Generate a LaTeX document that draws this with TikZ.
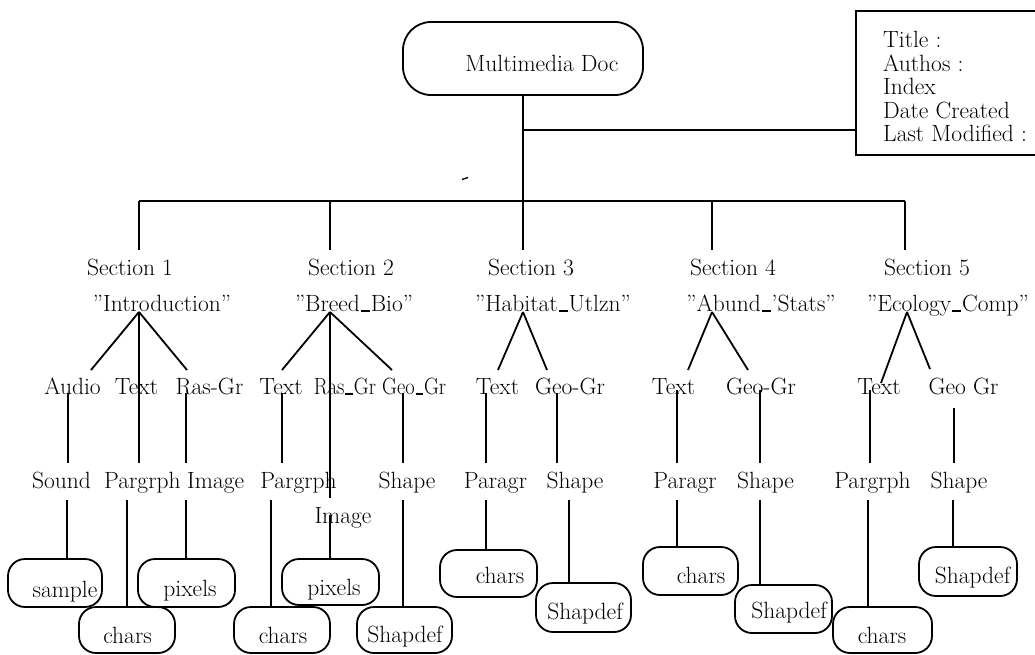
\documentclass[tikz,border=0pt]{standalone}
\usepackage{fontspec}
\usepackage{graphicx}
% short low dash used inside the section names
\newcommand{\usc}{\kern0.04em\rule[-0.03em]{0.38em}{0.055em}\kern0.04em}
% slightly condensed label for tight spots
\newcommand{\tight}[1]{\scalebox{0.87}[1]{#1}}
\begin{document}
\begin{tikzpicture}[x=1pt,y=-1pt,
  lbl/.style={font=\fontsize{23.5}{28}\selectfont, inner sep=0pt, anchor=base},
  rbox/.style={draw, line width=1.8pt, rounded corners=17pt, inner sep=0pt},
  conn/.style={line width=1.8pt}]
\useasboundingbox (0,0) rectangle (1035,655);
\clip (0,0) rectangle (1035,655);

% ---------- top: document node and its attribute box ----------
\node[rbox, rounded corners=28pt, minimum width=240pt, minimum height=73pt] (root) at (523,58.5) {};
\node[lbl] (rootlbl) at (542,72) {Multimedia Doc};

\node[draw, line width=1.8pt, anchor=north west, minimum width=200pt, minimum height=144pt, inner sep=0pt] (info) at (855,10) {};
\node[lbl, anchor=base west] (iTitle) at (883,48)    {Title :};
\node[lbl, anchor=base west] (iAuth)  at (883,71.5)  {Authos :};
\node[lbl, anchor=base west] (iIndex) at (883,95)    {Index};
\node[lbl, anchor=base west] (iDate)  at (883,118.5) {Date Created};
\node[lbl, anchor=base west] (iMod)   at (883,142)   {Last Modified :};

\coordinate (jn) at (523,130);
\draw[conn] (jn) -- (jn -| info.west);

% stray pen mark
\draw[line width=1.4pt] (462,179.5) -- (468,177.5);

% ---------- bus to the five sections ----------
\coordinate (busL) at (139,201);
\coordinate (busR) at (905,201);
\coordinate (d1) at (139,250);
\coordinate (d2) at (330,250);
\coordinate (d3) at (523,250);
\coordinate (d4) at (712,250);
\coordinate (d5) at (905,250);
\draw[conn] (busL) -- (busR);
\draw[conn] (root.south) -- (d3);
\foreach \d in {d1,d2,d4,d5} \draw[conn] (\d |- busL) -- (\d);

% ---------- section titles ----------
\node[lbl] (sec1) at (130,275) {Section 1};
\node[lbl] (sec2) at (351,275) {Section 2};
\node[lbl] (sec3) at (531,275) {Section 3};
\node[lbl] (sec4) at (733,275) {Section 4};
\node[lbl] (sec5) at (927,275) {Section 5};

\node[lbl] (nam1) at (162,311) {”Introduction”};
\node[lbl] (nam2) at (354,311) {”Breed\usc Bio”};
\node[lbl] (nam3) at (553,311) {”Habitat\usc Utlzn”};
\node[lbl] (nam4) at (761,311) {”Abund\usc’Stats”};
\node[lbl] (nam5) at (948,311) {”Ecology\usc Comp”};

% ---------- media types ----------
\node[lbl] (t1a) at (72.5,394)  {Audio};
\node[lbl] (t1b) at (136.5,394) {Text};
\node[lbl] (t1c) at (209.5,394) {Ras-Gr};
\node[lbl] (t2a) at (281,394)   {Text};
\node[lbl] (t2b) at (345,394)   {\tight{Ras\usc Gr}};
\node[lbl, anchor=base west] (t2c) at (382,394) {\tight{Geo\usc Gr}};
\node[lbl] (t3a) at (497.5,394) {Text};
\node[lbl] (t3b) at (570,394)   {Geo-Gr};
\node[lbl] (t4a) at (673.5,394) {Text};
\node[lbl] (t4b) at (761,394)   {Geo-Gr};
\node[lbl] (t5a) at (879,394)   {Text};
\node[lbl] (t5b) at (963.5,394) {Geo Gr};

% fan origins under the section names
\coordinate (f1) at (139,312);
\coordinate (f2) at (330,312);
\coordinate (f3) at (523,312);
\coordinate (f4) at (712,312);
\coordinate (f5) at (907,312);

\draw[conn] (f1) -- (91,370);
\draw[conn] (f1) -- (187,370);
\draw[conn] (f2) -- (282,370);
\draw[conn] (f2) -- (392,370);
\draw[conn] (f3) -- (498,370);
\draw[conn] (f3) -- (547,370);
\draw[conn] (f4) -- (688,370);
\draw[conn] (f4) -- (748,370);
\draw[conn] (f5) -- (881,383);
\draw[conn] (f5) -- (930,369);

% ---------- components ----------
\node[lbl] (c1a) at (61.5,488) {Sound};
\node[lbl, anchor=base west] (c1b) at (104,488) {Pargrph};
\node[lbl, anchor=base west] (c1c) at (187,488) {Image};
\node[lbl] (c2a) at (298.5,488) {Pargrph};
\node[lbl] (c2b) at (343,523)   {Image};
\node[lbl] (c2c) at (407,488)   {Shape};
\node[lbl] (c3a) at (495.5,488) {Paragr};
\node[lbl] (c3b) at (575,488)   {Shape};
\node[lbl] (c4a) at (685,488)   {Paragr};
\node[lbl] (c4b) at (765.5,488) {Shape};
\node[lbl] (c5a) at (872.5,488) {Pargrph};
\node[lbl] (c5b) at (959,488)   {Shape};

% verticals from media types to components
\draw[conn] (f1) -- (139,463);
\draw[conn] (68,393) -- (68,463);
\draw[conn] (186,393) -- (186,463);
\draw[conn] (282,393) -- (282,463);
\draw[conn] (f2) -- (330,498);
\draw[conn] (403,393) -- (403,463);
\draw[conn] (486,393) -- (486,463);
\draw[conn] (557,393) -- (557,463);
\draw[conn] (677,390) -- (677,463);
\draw[conn] (760,390) -- (760,463);
\draw[conn] (870,390) -- (870,463);
\draw[conn] (954,408) -- (954,463);

% ---------- leaf boxes ----------
\node[rbox, minimum width=94pt, minimum height=48pt] (bx1) at (55,583) {};
\node[rbox, minimum width=97pt, minimum height=48pt] (bx3) at (186.5,583) {};
\node[rbox, minimum width=96pt, minimum height=46pt] (bx2) at (127,630) {};
\node[rbox, minimum width=97pt, minimum height=46pt] (bx5) at (330.5,582) {};
\node[rbox, minimum width=96pt, minimum height=46pt] (bx4) at (282,630) {};
\node[rbox, minimum width=95pt, minimum height=46pt] (bx6) at (404.5,630) {};
\node[rbox, minimum width=97pt, minimum height=47pt] (bx7) at (488.5,573.5) {};
\node[rbox, minimum width=95pt, minimum height=49pt] (bx8) at (583.5,607.5) {};
\node[rbox, minimum width=95pt, minimum height=48pt] (bx9) at (690.5,571) {};
\node[rbox, minimum width=97pt, minimum height=48pt] (bx10) at (783.5,609) {};
\node[rbox, minimum width=99pt, minimum height=46pt] (bx11) at (882.5,630) {};
\node[rbox, minimum width=98pt, minimum height=49pt] (bx12) at (968,571.5) {};

\node[lbl] (l1)  at (65,597)    {sample};
\node[lbl] (l2)  at (127.5,643) {chars};
\node[lbl] (l3)  at (190,596)   {pixels};
\node[lbl] (l4)  at (283,643)   {chars};
\node[lbl] (l5)  at (334,595)   {pixels};
\node[lbl] (l6)  at (405,642)   {Shapdef};
\node[lbl] (l7)  at (500,583)   {chars};
\node[lbl] (l8)  at (585,619)   {Shapdef};
\node[lbl] (l9)  at (701,583)   {chars};
\node[lbl] (l10) at (789,618)   {Shapdef};
\node[lbl] (l11) at (882,643)   {chars};
\node[lbl] (l12) at (972.5,583) {Shapdef};

% verticals from components down to leaf boxes
\coordinate (v1) at (67,500);
\coordinate (v2) at (127,500);
\coordinate (v3) at (186,500);
\coordinate (v4) at (271,500);
\coordinate (v5) at (330,515);
\coordinate (v6) at (403,500);
\coordinate (v7) at (486,500);
\coordinate (v8) at (569,500);
\coordinate (v9) at (677,500);
\coordinate (v10) at (760,500);
\coordinate (v11) at (868,500);
\coordinate (v12) at (953,500);
\draw[conn] (v1) -- (v1 |- bx1.north);
\draw[conn] (v2) -- (v2 |- bx2.north);
\draw[conn] (v3) -- (v3 |- bx3.north);
\draw[conn] (v4) -- (v4 |- bx4.north);
\draw[conn] (v5) -- (v5 |- bx5.north);
\draw[conn] (v6) -- (v6 |- bx6.north);
\draw[conn] (v7) -- (v7 |- bx7.north);
\draw[conn] (v8) -- (v8 |- bx8.north);
\draw[conn] (v9) -- (v9 |- bx9.north);
\draw[conn] (v10) -- (v10 |- bx10.north);
\draw[conn] (v11) -- (v11 |- bx11.north);
\draw[conn] (v12) -- (v12 |- bx12.north);
\end{tikzpicture}
\end{document}
